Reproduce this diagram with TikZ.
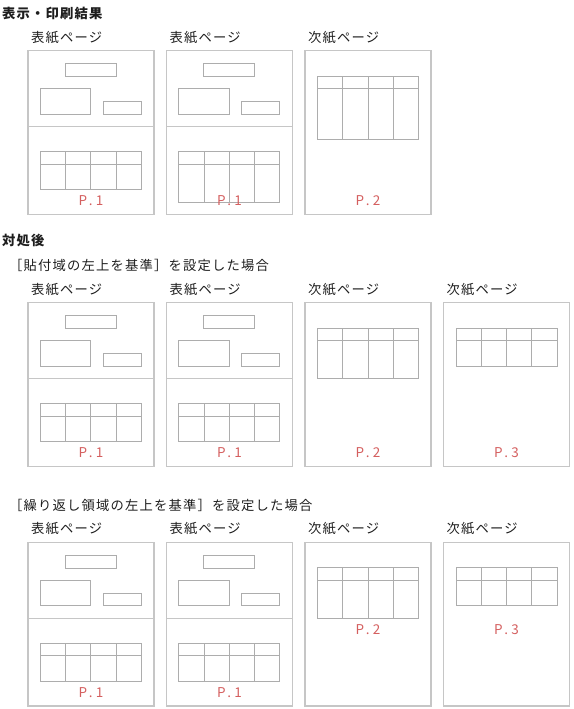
\documentclass[tikz,border=0pt]{standalone}
\usepackage{fontspec}
\setmainfont{Noto Sans CJK JP}
\newfontfamily\jpfont[LetterSpace=9]{Noto Sans CJK JP}
\newfontfamily\pnofont[LetterSpace=24]{Noto Sans CJK JP}
\usetikzlibrary{positioning}

\definecolor{pageline}{HTML}{C6C6C6}
\definecolor{boxline}{HTML}{ADADAD}
\definecolor{pagered}{HTML}{D45F5F}
\definecolor{inktext}{HTML}{1E1E1E}

% cover page: name, x, y, table bottom
\newcommand{\drawcover}[4]{%
  \begin{scope}[shift={(#2,#3)}]
    \node[pagetitle] (#1t) at (3,-13.5) {表紙ページ};
    \draw[pagebox] (0,0) rectangle (126,163.7);
    \draw[pagebox] (0,76) -- (126,76);
    \draw[itembox] (37.3,12.6) rectangle (88,25.6);
    \draw[itembox] (12.3,38) rectangle (62.7,63.3);
    \draw[itembox] (75.3,50.6) rectangle (113.3,63.3);
    \draw[itembox] (12.3,101) rectangle (113.3,#4);
    \draw[itembox] (12.3,113.3) -- (113.3,113.3);
    \foreach \cx in {37.55,62.8,88.05}
      \draw[itembox] (\cx,101) -- (\cx,#4);
    \node[pageno] (#1) at (63,150) {P.1};
  \end{scope}}

% next page: name, x, y, table bottom, label y, label
\newcommand{\drawnext}[6]{%
  \begin{scope}[shift={(#2,#3)}]
    \node[pagetitle] (#1t) at (3,-13.5) {次紙ページ};
    \draw[pagebox] (0,0) rectangle (126,163.7);
    \draw[itembox] (12.5,25.4) rectangle (113.5,#4);
    \draw[itembox] (12.5,37.9) -- (113.5,37.9);
    \foreach \cx in {37.75,63,88.25}
      \draw[itembox] (\cx,25.4) -- (\cx,#4);
    \node[pageno] (#1) at (63,#5) {#6};
  \end{scope}}

\begin{document}
\begin{tikzpicture}[
  x=1pt, y=-1pt,
  pagebox/.style={draw=pageline, line width=1.5pt},
  itembox/.style={draw=boxline, line width=1pt},
  pagetitle/.style={anchor=west, inner sep=0pt, text=inktext,
                    font=\jpfont\fontsize{13.3}{15}\selectfont},
  head/.style={anchor=west, inner sep=0pt, text=inktext,
               font=\jpfont\bfseries\fontsize{13.3}{15}\selectfont},
  sub/.style={anchor=west, inner sep=0pt, text=inktext,
              font=\jpfont\fontsize{13.3}{15}\selectfont},
  pageno/.style={inner sep=0pt, text=pagered,
                 font=\pnofont\fontsize{13.5}{15}\selectfont},
]
\useasboundingbox (0,0) rectangle (573,709);

% Display / print result
\node[head] (result) at (2,13) {表示・印刷結果};
\drawcover{pa}{28}{50.7}{138.6}
\drawcover{pb}{166.5}{50.7}{151.3}
\drawnext{pc}{305}{50.7}{88.3}{150}{P.2}

% After the fix
\node[head] (after) at (2,240) {対処後};

% Case A
\node[sub] (casea) at (9,265) {［貼付域の左上を基準］を設定した場合};
\drawcover{qa}{28}{302.7}{138.6}
\drawcover{qb}{166.5}{302.7}{138.6}
\drawnext{qc}{305}{302.7}{76}{150}{P.2}
\drawnext{qd}{443.5}{302.7}{63.3}{150}{P.3}

% Case B
\node[sub] (caseb) at (9,505) {［繰り返し領域の左上を基準］を設定した場合};
\drawcover{ra}{28}{542.5}{138.6}
\drawcover{rb}{166.5}{542.5}{138.6}
\drawnext{rc}{305}{542.5}{76}{86.8}{P.2}
\drawnext{rd}{443.5}{542.5}{63.3}{86.8}{P.3}
\end{tikzpicture}
\end{document}
